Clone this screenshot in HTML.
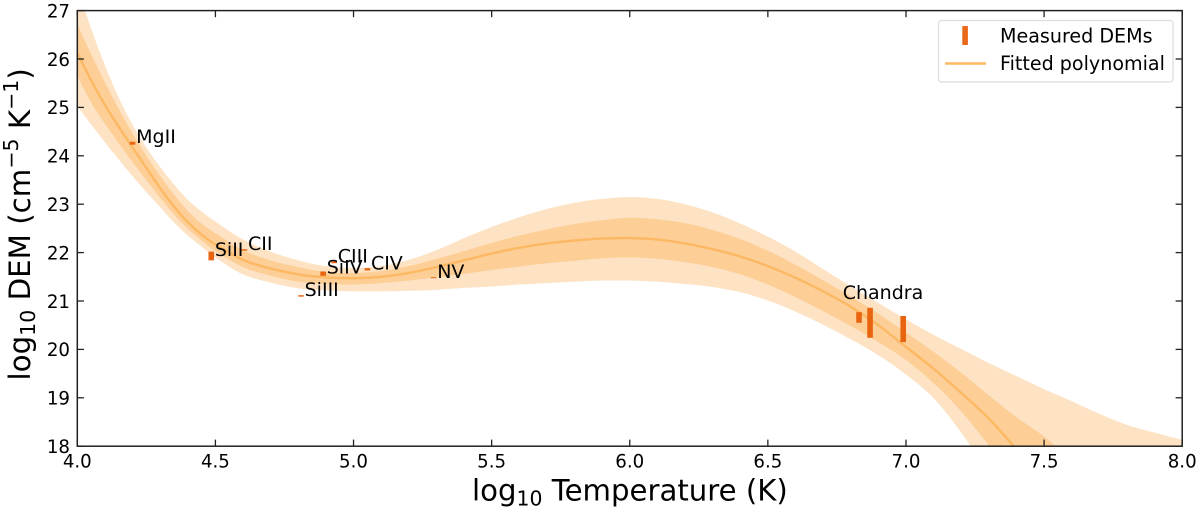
<!DOCTYPE html>
<html lang="en">
<head>
<meta charset="utf-8">
<title>DEM polynomial fit chart</title>
<style>
html,body{margin:0;padding:0;background:#fff;overflow:hidden;}
body{width:1200px;height:511px;overflow:hidden;}
svg{display:block;}
text{font-family:"DejaVu Sans","Liberation Sans",sans-serif;fill:#000;}
</style>
</head>
<body>
<svg id="chart" xmlns="http://www.w3.org/2000/svg" width="1200" height="511" viewBox="0 0 1200 511">
  <defs><clipPath id="plot-clip"><rect x="77.3" y="10.6" width="1104.9" height="435.6"/></clipPath></defs>
  <g id="bands" clip-path="url(#plot-clip)"></g>
  <g id="bars"></g>
  <g id="labels"></g>
  <g id="axes"></g>
  <text x="472" y="500.5" font-size="29.2">log<tspan font-size="20.4" dy="5">10</tspan><tspan dy="-5"> Temperature (K)</tspan></text>
  <text transform="translate(30,380.5) rotate(-90)" font-size="29.3">log<tspan font-size="20.5" dy="5">10</tspan><tspan dy="-5"> DEM (cm</tspan><tspan font-size="20.5" dy="-12">−5</tspan><tspan dy="12"> K</tspan><tspan font-size="20.5" dy="-12">−1</tspan><tspan dy="12">)</tspan></text>
  <g>
    <rect x="938.5" y="20.5" width="234.5" height="61.5" rx="3" fill="#fff" fill-opacity="0.8" stroke="#dcdcdc" stroke-width="1.2"/>
    <rect x="962.3" y="26" width="5.6" height="19" fill="#e8691a"/>
    <line x1="945" y1="63.5" x2="986" y2="63.5" stroke="#fdb863" stroke-width="2.5"/>
    <text x="1000" y="42.5" font-size="19.1">Measured DEMs</text>
    <text x="1000" y="70" font-size="19.1">Fitted polynomial</text>
  </g>
</svg>
<script>
const gridT    = [4.0,4.05,4.1,4.15,4.2,4.25,4.3,4.35,4.4,4.45,4.5,4.6,4.7,4.8,4.9,5.0,5.1,5.2,5.3,5.4,5.5,5.6,5.7,5.8,5.9,6.0,6.1,6.2,6.3,6.4,6.5,6.6,6.7,6.8,6.9,7.0,7.1,7.2,7.3,7.4,7.5,7.6,7.7,7.8,7.9,8.0];
const fitMean  = [26.12,25.56,25.05,24.6,24.17,23.75,23.33,22.95,22.63,22.37,22.17,21.85,21.67,21.55,21.49,21.47,21.5,21.58,21.7,21.84,21.98,22.1,22.19,22.25,22.29,22.3,22.27,22.19,22.07,21.92,21.72,21.48,21.2,20.88,20.5,20.05,19.6,19.1,18.57,17.93,17.2];
const inner1Up = [26.72,26.1,25.52,24.97,24.46,24.0,23.58,23.2,22.86,22.6,22.4,22.05,21.84,21.7,21.6,21.58,21.62,21.72,21.87,22.03,22.2,22.35,22.48,22.59,22.67,22.72,22.69,22.61,22.47,22.28,22.04,21.75,21.43,21.09,20.74,20.35,19.95,19.52,19.05,18.6,18.2,17.7];
const inner1Lo = [25.66,25.1,24.66,24.26,23.87,23.5,23.13,22.79,22.49,22.25,22.03,21.7,21.52,21.4,21.35,21.34,21.37,21.42,21.49,21.56,21.64,21.71,21.78,21.83,21.88,21.9,21.87,21.8,21.7,21.55,21.34,21.08,20.79,20.48,20.15,19.78,19.3,18.72,18.02,17.3];
const outerUp  = [27.48,26.63,25.87,25.2,24.64,24.17,23.77,23.41,23.09,22.85,22.64,22.27,22.02,21.84,21.72,21.68,21.72,21.85,22.05,22.3,22.53,22.73,22.9,23.03,23.11,23.15,23.11,23.0,22.83,22.6,22.33,22.02,21.66,21.3,20.96,20.62,20.3,20.01,19.72,19.45,19.18,18.93,18.67,18.44,18.28,18.13];
const outerLo  = [25.03,24.65,24.28,23.92,23.58,23.25,22.94,22.62,22.35,22.12,21.9,21.55,21.38,21.26,21.22,21.2,21.2,21.21,21.23,21.27,21.3,21.34,21.37,21.4,21.42,21.42,21.4,21.35,21.29,21.18,21.01,20.78,20.51,20.21,19.88,19.48,18.99,18.28,17.4];

const obsNames = ['MgII','SiII','CII','SiIII','SiIV','CIII','CIV','NV','Chandra-1','Chandra-2','Chandra-3'];
const obsT     = [4.20,4.485,4.605,4.81,4.89,4.93,5.05,5.29,6.83,6.87,6.99];
const obsHigh  = [24.29,22.02,22.07,21.12,21.61,21.82,21.68,21.49,20.77,20.86,20.69];
const obsLow   = [24.23,21.84,22.04,21.09,21.52,21.78,21.63,21.47,20.55,20.24,20.15];
const obsLabels = ['MgII','SiII','CII','SiIII','SiIV','CIII','CIV','NV','','',''];

const xTicks = [4.0,4.5,5.0,5.5,6.0,6.5,7.0,7.5,8.0];
const yTicks = [18,19,20,21,22,23,24,25,26,27];

const NS = 'http://www.w3.org/2000/svg';
const plotL = 77.3, plotR = 1182.2, plotT = 10.6, plotB = 446.2;
const xScale = function (v) { return plotL + (v - 4) / 4 * (plotR - plotL); };
const yScale = function (v) { return plotB - (v - 18) / 9 * (plotB - plotT); };

function curve(ts, vs, move) {
  const p = vs.map(function (v, i) { return [xScale(ts[i]), yScale(v)]; });
  let d = (move ? 'M' : 'L') + p[0][0].toFixed(2) + ' ' + p[0][1].toFixed(2);
  for (let i = 0; i < p.length - 1; i++) {
    const a = p[Math.max(i - 1, 0)], b = p[i], c = p[i + 1], e = p[Math.min(i + 2, p.length - 1)];
    const c1x = b[0] + (c[0] - a[0]) / 6, c1y = b[1] + (c[1] - a[1]) / 6;
    const c2x = c[0] - (e[0] - b[0]) / 6, c2y = c[1] - (e[1] - b[1]) / 6;
    d += 'C' + c1x.toFixed(2) + ' ' + c1y.toFixed(2) + ' ' + c2x.toFixed(2) + ' ' + c2y.toFixed(2) + ' ' + c[0].toFixed(2) + ' ' + c[1].toFixed(2);
  }
  return d;
}
function bandPath(up, lo) {
  const rT = gridT.slice(0, lo.length).reverse();
  const rL = lo.slice().reverse();
  const corner = 'L' + xScale(gridT[up.length - 1]).toFixed(2) + ' ' + yScale(lo[lo.length - 1]).toFixed(2);
  return curve(gridT, up, true) + corner + curve(rT, rL, false) + 'Z';
}

const bands = document.getElementById('bands');
const outerBand = document.createElementNS(NS, 'path');


outerBand.setAttribute('d', bandPath(outerUp, outerLo));
outerBand.setAttribute('fill', '#fde3c4');
bands.appendChild(outerBand);

const innerBand = document.createElementNS(NS, 'path');


innerBand.setAttribute('d', bandPath(inner1Up, inner1Lo));
innerBand.setAttribute('fill', '#fdce96');
bands.appendChild(innerBand);

const fitLine = document.createElementNS(NS, 'path');


fitLine.setAttribute('d', curve(gridT, fitMean, true));
fitLine.setAttribute('fill', 'none');
fitLine.setAttribute('stroke', '#fdb863');
fitLine.setAttribute('stroke-width', '2.4');
bands.appendChild(fitLine);

const bars = document.getElementById('bars');
const labels = document.getElementById('labels');
obsT.forEach(function (t, i) {
  const r = document.createElementNS(NS, 'rect');
  
  
  r.setAttribute('x', (xScale(t) - 2.8).toFixed(2));
  r.setAttribute('width', '5.6');
  r.setAttribute('y', yScale(obsHigh[i]).toFixed(2));
  r.setAttribute('height', (yScale(obsLow[i]) - yScale(obsHigh[i])).toFixed(2));
  r.setAttribute('fill', '#e8640f');
  bars.appendChild(r);
  if (obsLabels[i]) {
    const l = document.createElementNS(NS, 'text');
    
    
    l.setAttribute('x', (xScale(t) + 3.6).toFixed(2));
    l.setAttribute('y', yScale((obsHigh[i] + obsLow[i]) / 2).toFixed(2));
    l.setAttribute('font-size', '19');
    l.textContent = obsLabels[i];
    labels.appendChild(l);
  }
});
const chandra = document.createElementNS(NS, 'text');


chandra.setAttribute('x', xScale(6.771).toFixed(2));
chandra.setAttribute('y', yScale(21.04).toFixed(2));
chandra.setAttribute('font-size', '19');
chandra.textContent = 'Chandra';
labels.appendChild(chandra);

const axes = document.getElementById('axes');
const frame = document.createElementNS(NS, 'rect');


frame.setAttribute('x', plotL);
frame.setAttribute('y', plotT);
frame.setAttribute('width', plotR - plotL);
frame.setAttribute('height', plotB - plotT);
frame.setAttribute('fill', 'none');
frame.setAttribute('stroke', '#222');
frame.setAttribute('stroke-width', '1.5');
axes.appendChild(frame);

function tick(x1, y1, x2, y2, name) {
  const t = document.createElementNS(NS, 'line');
  
  
  t.setAttribute('x1', x1.toFixed(2));
  t.setAttribute('y1', y1.toFixed(2));
  t.setAttribute('x2', x2.toFixed(2));
  t.setAttribute('y2', y2.toFixed(2));
  t.setAttribute('stroke', '#222');
  t.setAttribute('stroke-width', '1.3');
  axes.appendChild(t);
}
xTicks.forEach(function (v) {
  const x = xScale(v);
  tick(x, plotB, x, plotB - 6.6, 'x-tick-bottom');
  tick(x, plotT, x, plotT + 6.6, 'x-tick-top');
  const l = document.createElementNS(NS, 'text');
  
  
  l.setAttribute('x', x.toFixed(2));
  l.setAttribute('y', '467.3');
  l.setAttribute('text-anchor', 'middle');
  l.setAttribute('font-size', '18.2');
  l.textContent = v.toFixed(1);
  axes.appendChild(l);
});
yTicks.forEach(function (v) {
  const y = yScale(v);
  tick(plotL, y, plotL + 6.6, y, 'y-tick-left');
  tick(plotR, y, plotR - 6.6, y, 'y-tick-right');
  const l = document.createElementNS(NS, 'text');
  
  
  l.setAttribute('x', '70');
  l.setAttribute('y', (y + 6.8).toFixed(2));
  l.setAttribute('text-anchor', 'end');
  l.setAttribute('font-size', '18.2');
  l.textContent = String(v);
  axes.appendChild(l);
});
</script>
</body>
</html>
